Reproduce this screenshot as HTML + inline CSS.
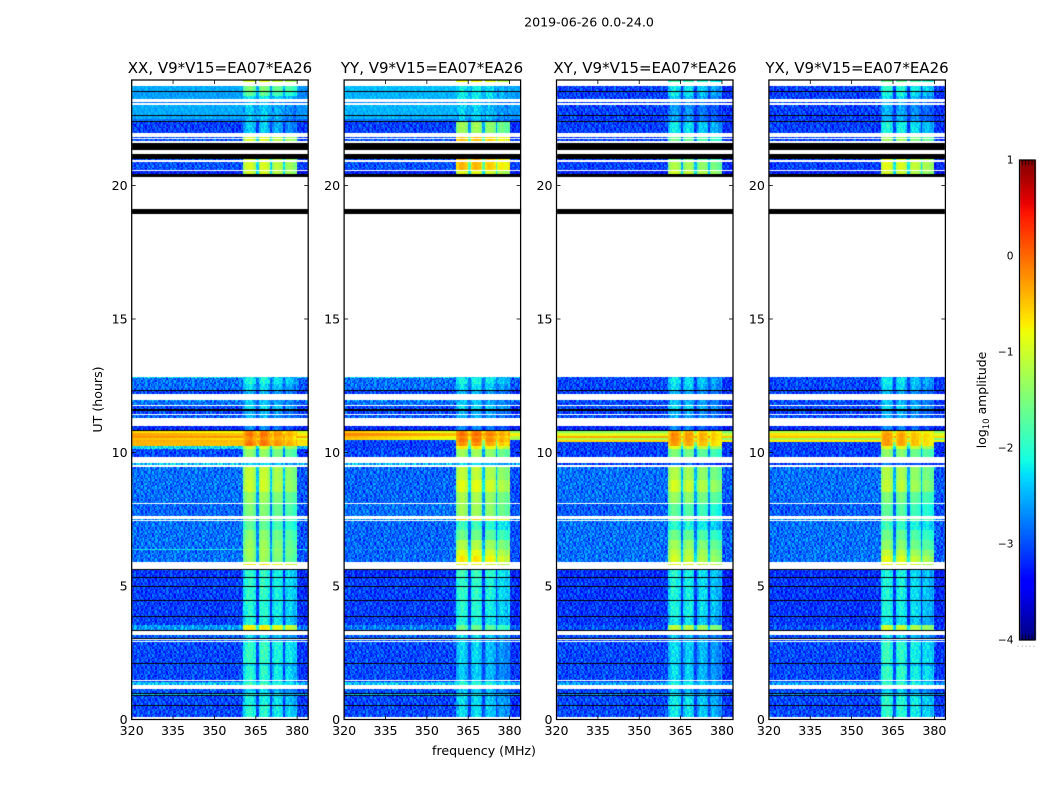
<!DOCTYPE html>
<html lang="en">
<head>
<meta charset="utf-8">
<title>2019-06-26 0.0-24.0</title>
<style>
html,body{margin:0;padding:0;background:#fff}
#figure{position:relative;width:1050px;height:800px;overflow:hidden;background:#fff;font-family:"DejaVu Sans","Liberation Sans",sans-serif}
#heat{position:absolute;left:0;top:0}
#overlay{position:absolute;left:0;top:0}
text{font-family:"DejaVu Sans","Liberation Sans",sans-serif;fill:#000}
</style>
</head>
<body>
<div id="figure">
<canvas id="heat" width="1050" height="800"></canvas>
<svg id="overlay" width="1050" height="800" xmlns="http://www.w3.org/2000/svg">
  <text x="589" y="26.5" font-size="12.6" text-anchor="middle">2019-06-26 0.0-24.0</text>
  <text x="220" y="73" font-size="15" text-anchor="middle">XX, V9*V15=EA07*EA26</text>
  <text x="432" y="73" font-size="15" text-anchor="middle">YY, V9*V15=EA07*EA26</text>
  <text x="645" y="73" font-size="15" text-anchor="middle">XY, V9*V15=EA07*EA26</text>
  <text x="857" y="73" font-size="15" text-anchor="middle">YX, V9*V15=EA07*EA26</text>
  <text x="0" y="0" font-size="12.6" text-anchor="middle" transform="translate(102,399.5) rotate(-90)">UT (hours)</text>
  <text x="484" y="755" font-size="12.6" text-anchor="middle">frequency (MHz)</text>
  <text x="0" y="0" font-size="12.4" text-anchor="middle" transform="translate(986,400) rotate(-90)">log<tspan font-size="8.6" dy="3">10</tspan><tspan dy="-3"> amplitude</tspan></text>
</svg>
</div>
<script>
// Log10 amplitudes (estimates).
const W = null; // no data: renders white
const K = -9;   // flagged/zero: renders black

const xTickValues = [320, 335, 350, 365, 380];
const yTickValues = [0, 5, 10, 15, 20];
const colorbarTickValues = [1, 0, -1, -2, -3, -4];

// Upper edge of each time band, in UT hours; each band ends at the next value.
const bandTop = [
23.951,23.876,23.727,23.528,23.502,23.352,23.228,23.127,23.090,23.004,
22.640,22.603,22.509,22.472,22.434,22.378,21.966,21.828,21.779,21.730,
21.678,21.581,21.348,21.180,21.004,20.955,20.891,20.581,20.543,20.431,
20.330,19.101,18.951,12.816,12.779,12.566,12.341,12.292,12.191,11.966,
11.918,11.790,11.753,11.618,11.566,11.442,11.404,11.303,10.993,10.843,
10.816,10.730,10.618,10.543,10.468,10.393,10.262,10.225,10.142,9.820,
9.596,9.543,9.468,8.970,8.521,8.120,8.082,7.633,7.509,7.483,
7.446,7.097,6.723,6.386,6.337,6.124,5.910,5.824,5.787,5.625,
5.588,5.337,5.300,4.989,4.951,4.719,4.682,4.464,4.427,3.865,
3.828,3.539,3.341,3.303,3.165,3.064,3.026,2.989,2.940,2.891,
2.105,2.067,2.015,1.993,1.491,1.442,1.393,1.281,1.142,1.079,
1.049,0.993,0.966,0.918,0.880,0.532,0.506,0.105
];

// Out-of-band level per time band, one array per polarisation.
const outXX = [
W,W,-2.55,K,-2.6,-2.6,W,-2.8,W,-2.55,
K,-2.55,W,-2.8,K,-3.1,W,-3.0,W,-3.0,
W,K,W,K,-3.0,W,-3.0,W,-3.3,K,
W,K,W,-2.3,-2.85,-2.85,K,-3.1,W,-2.75,
-2.85,W,-3.05,K,-3.05,W,-2.95,W,-3.25,K,
-0.7,-0.4,-0.25,-0.55,-0.4,-0.45,W,-2.3,-3.05,W,
-2.4,W,-2.85,-2.85,-2.85,W,-2.9,W,-2.7,W,
-2.85,-2.85,-2.85,-2.2,-2.85,-2.85,W,W,W,K,
-3.15,K,-3.1,K,-3.1,K,-3.1,K,-3.1,K,
-3.1,-2.65,K,W,-2.95,K,W,-2.95,W,-3.05,
K,-3.0,K,-3.05,W,-3.05,-2.4,W,-2.95,K,
-3.05,K,-2.45,K,-3.05,K,-3.05,W
];
const outYY = [
W,W,-2.45,K,-2.5,-2.5,W,-2.7,W,-2.5,
K,-2.5,W,-2.8,K,-3.1,W,-3.0,W,-3.0,
W,K,W,K,-3.0,W,-3.0,W,-3.3,K,
W,K,W,-2.3,-2.85,-2.85,K,-3.1,W,-2.75,
-2.85,W,-3.05,K,-3.05,W,-2.95,W,-3.25,K,
-0.7,-0.3,-0.6,-0.7,-3.0,-3.1,W,-3.1,-3.05,W,
-2.5,W,-2.9,-2.9,-2.9,W,-2.85,W,-2.7,W,
-2.9,-2.9,-2.9,-2.75,-2.9,-2.9,W,W,W,K,
-3.2,K,-3.1,K,-3.1,K,-3.1,K,-3.1,K,
-3.1,-2.8,K,W,-2.95,K,W,-2.95,W,-3.05,
K,-3.0,K,-3.05,W,-3.05,-2.4,W,-2.95,K,
-3.05,K,-2.45,K,-3.05,K,-3.05,W
];
const outXY = [
W,W,-3.1,K,-3.1,-3.1,W,-3.1,W,-3.1,
K,-3.1,W,-3.1,K,-3.1,W,-3.1,W,-3.1,
W,K,W,K,-3.1,W,-3.1,W,-3.3,K,
W,K,W,-3.0,-3.05,-3.05,K,-3.1,W,-3.05,
-3.05,W,-3.05,K,-3.1,W,-3.05,W,-3.25,K,
-1.4,-0.9,-0.35,-1.2,-0.6,-3.1,W,-3.1,-3.1,W,
-3.1,W,-2.85,-2.85,-2.85,W,-2.95,W,-2.7,W,
-2.85,-2.85,-2.85,-2.8,-2.85,-2.85,W,W,W,K,
-3.2,K,-3.15,K,-3.15,K,-3.15,K,-3.15,K,
-3.15,-3.0,K,W,-3.05,K,W,-3.05,W,-3.05,
K,-3.05,K,-3.05,W,-3.05,-2.6,W,-3.05,K,
-3.05,K,-2.7,K,-3.05,K,-3.05,W
];
const outYX = [
W,W,-3.1,K,-3.1,-3.1,W,-3.1,W,-3.1,
K,-3.1,W,-3.1,K,-3.1,W,-3.1,W,-3.1,
W,K,W,K,-3.1,W,-3.1,W,-3.3,K,
W,K,W,-3.0,-3.05,-3.05,K,-3.1,W,-3.05,
-3.05,W,-3.05,K,-3.1,W,-3.05,W,-3.25,K,
-1.2,-0.7,-0.5,-1.3,-0.7,-3.1,W,-3.1,-3.1,W,
-3.1,W,-2.85,-2.85,-2.85,W,-2.95,W,-2.7,W,
-2.85,-2.85,-2.85,-2.8,-2.85,-2.85,W,W,W,K,
-3.2,K,-3.15,K,-3.15,K,-3.15,K,-3.15,K,
-3.15,-3.0,K,W,-3.05,K,W,-3.05,W,-3.05,
K,-3.05,K,-3.05,W,-3.05,-2.6,W,-3.05,K,
-3.05,K,-2.7,K,-3.05,K,-3.05,W
];

// In-band (361-380 MHz) level per time band, one array per polarisation.
const inXX = [
-0.9,W,-1.5,K,-1.7,-2.2,W,-2.5,W,-2.4,
K,-2.4,W,-2.5,K,-2.4,W,-1.0,W,-1.0,
W,K,W,K,-1.0,W,-1.0,W,-1.0,K,
W,K,W,-2.2,-2.1,-2.3,K,-2.5,W,-2.5,
-2.4,W,-2.3,K,-2.5,W,-2.5,W,-2.7,K,
-0.2,-0.1,-0.2,-0.25,-0.15,-0.1,W,-1.0,-1.4,W,
-2.3,W,-1.1,-1.05,-1.35,W,-1.5,W,-1.4,W,
-1.7,-1.45,-1.35,-1.2,-1.3,-1.35,W,-0.7,W,K,
-2.0,K,-2.0,K,-2.0,K,-2.0,K,-2.05,K,
-2.1,-0.75,K,W,-2.3,K,W,-2.4,W,-1.95,
K,-2.3,K,-2.05,W,-2.2,-1.9,W,-2.4,K,
-2.3,K,-2.1,K,-2.15,K,-2.05,W
];
const inYY = [
-0.8,W,-2.2,K,-2.2,-2.2,W,-2.5,W,-2.35,
K,-2.35,W,-2.5,K,-1.3,W,-0.5,W,-0.5,
W,K,W,K,-0.4,W,-0.45,W,-0.9,K,
W,K,W,-2.2,-2.1,-2.3,K,-2.5,W,-2.5,
-2.4,W,-2.3,K,-2.5,W,-2.5,W,-2.7,K,
-0.15,-0.05,-0.2,-0.1,-0.1,-0.25,W,-0.7,-1.3,W,
-2.3,W,-1.1,-0.9,-1.25,W,-1.3,W,-0.6,W,
-1.9,-1.6,-1.2,-1.1,-0.9,-0.7,W,-0.8,W,K,
-1.9,K,-2.0,K,-2.0,K,-2.0,K,-2.05,K,
-2.1,-1.6,K,W,-2.3,K,W,-2.4,W,-2.35,
K,-2.4,K,-2.4,W,-2.3,-2.0,W,-2.4,K,
-2.4,K,-2.2,K,-2.3,K,-2.3,W
];
const inXY = [
-1.8,W,-2.2,K,-2.2,-2.4,W,-2.6,W,-2.6,
K,-2.6,W,-2.6,K,-2.2,W,-1.6,W,-1.6,
W,K,W,K,-1.5,W,-1.2,W,-1.0,K,
W,K,W,-2.4,-2.2,-2.3,K,-2.5,W,-2.5,
-2.4,W,-2.3,K,-2.5,W,-2.5,W,-2.7,K,
-0.35,-0.2,-0.25,-0.2,-0.25,-0.3,W,-0.9,-1.5,W,
-2.8,W,-1.2,-1.0,-1.35,W,-1.7,W,-1.4,W,
-2.0,-1.6,-1.3,-1.2,-1.1,-1.0,W,-0.8,W,K,
-2.05,K,-2.1,K,-2.1,K,-2.1,K,-2.1,K,
-2.2,-1.1,K,W,-2.4,K,W,-2.4,W,-2.3,
K,-2.4,K,-2.3,W,-2.3,-2.1,W,-2.4,K,
-2.4,K,-2.2,K,-2.2,K,-2.2,W
];
const inYX = [
-1.6,W,-2.0,K,-2.1,-2.3,W,-2.5,W,-2.5,
K,-2.5,W,-2.5,K,-2.1,W,-1.3,W,-1.3,
W,K,W,K,-0.9,W,-0.9,W,-1.0,K,
W,K,W,-2.4,-2.2,-2.3,K,-2.5,W,-2.5,
-2.4,W,-2.3,K,-2.5,W,-2.5,W,-2.7,K,
-0.45,-0.3,-0.3,-0.3,-0.3,-0.3,W,-0.9,-1.4,W,
-2.8,W,-1.2,-1.1,-1.5,W,-1.7,W,-1.4,W,
-1.9,-1.6,-1.4,-1.3,-1.1,-0.9,W,-0.8,W,K,
-2.1,K,-2.1,K,-2.1,K,-2.1,K,-2.1,K,
-2.2,-1.0,K,W,-2.3,K,W,-2.4,W,-1.95,
K,-2.3,K,-1.95,W,-2.2,-1.9,W,-2.4,K,
-2.3,K,-2.1,K,-2.0,K,-2.0,W
];

// Sub-band edges in MHz and each polarisation's level offset per sub-band.
const subbandLow = [360.6, 365.8, 370.9, 375.7];
const subbandHigh = [365.1, 370.0, 375.0, 379.9];
const subbandOffsetXX = [0, 0.02, -0.15, -0.3];
const subbandOffsetYY = [0, 0, -0.1, -0.3];
const subbandOffsetXY = [0, -0.08, -0.2, -0.35];
const subbandOffsetYX = [0, -0.05, -0.2, -0.35];

// Bandpass shape across the in-band channels, 0.5 MHz steps from 360.5 MHz.
const inbandRipple = [
-0.25,-0.1,0,0.05,0.05,0.05,0,-0.1,-0.2,0,0,
-0.2,-0.05,0.05,0.05,0.05,0,-0.05,-0.2,0,0,
-0.2,0,0.05,0.05,0,0,-0.05,-0.15,0,
-0.15,0,0.05,0.05,0,-0.05,-0.1,-0.2,0
];

// Left-to-right slope of the bright interference stripes near 10.5 h.
const firstStripeBand = 50;
const stripeTiltXX = [0.2, 0.2, 0, 0.2, 0.1, 0.1];
const stripeTiltYY = [0.5, 0.3, 0.4, 0.4, 0, 0];
const stripeTiltXY = [0, 0, 0, 0.1, 0, 0];
const stripeTiltYX = [0.1, 0.1, 0, 0.1, 0, 0];

// Hand-typed texture tile: an illustrative stand-in for the per-cell receiver
// noise, whose individual cells cannot be read from the picture.
const speckleTile = [
[ 0.2,-0.3, 0.1, 0.4,-0.1,-0.4, 0.3, 0.0,-0.2, 0.3,-0.3, 0.1, 0.4,-0.4, 0.0, 0.2,-0.1],
[-0.1, 0.3,-0.4, 0.0, 0.2, 0.3,-0.2, 0.4,-0.3,-0.1, 0.2,-0.4, 0.1, 0.3,-0.2,-0.3, 0.4],
[ 0.4,-0.2, 0.0,-0.3, 0.3,-0.1, 0.1,-0.4, 0.2, 0.4,-0.1, 0.3,-0.3, 0.0, 0.3,-0.2, 0.1],
[-0.3, 0.1, 0.3, 0.2,-0.4, 0.4,-0.3, 0.1,-0.1, 0.0, 0.3,-0.2, 0.2,-0.4, 0.4, 0.1,-0.3],
[ 0.1, 0.4,-0.2,-0.3, 0.0, 0.2,-0.4, 0.3, 0.4,-0.3,-0.2, 0.1, 0.0, 0.3,-0.1, 0.4,-0.2],
[-0.4, 0.0, 0.2, 0.4,-0.2,-0.3, 0.1, 0.3,-0.1, 0.2, 0.4,-0.4, 0.3,-0.2, 0.1,-0.1, 0.3],
[ 0.3,-0.1,-0.3, 0.1, 0.4, 0.0,-0.2,-0.4, 0.3,-0.2, 0.1, 0.2,-0.3, 0.4,-0.4, 0.2, 0.0],
[ 0.0, 0.2, 0.4,-0.4,-0.1, 0.3, 0.4,-0.1, 0.1,-0.4, 0.3,-0.1, 0.2,-0.3, 0.2,-0.4, 0.3],
[-0.2, 0.3,-0.1, 0.2,-0.3, 0.1,-0.3, 0.2,-0.4, 0.4, 0.0,-0.3, 0.4, 0.1,-0.2, 0.3,-0.4],
[ 0.4,-0.4, 0.1,-0.2, 0.3,-0.4, 0.2, 0.0, 0.4,-0.1,-0.3, 0.3,-0.1,-0.4, 0.4,-0.1, 0.2],
[-0.1, 0.2,-0.3, 0.4, 0.1,-0.2, 0.4,-0.3, 0.0, 0.3, 0.2,-0.4, 0.1, 0.2,-0.3, 0.4,-0.2],
[ 0.3,-0.3, 0.0,-0.1, 0.4, 0.2,-0.4, 0.1, 0.3,-0.4, 0.1, 0.4,-0.2,-0.1, 0.0,-0.3, 0.4],
[-0.3, 0.1, 0.4,-0.4, 0.2,-0.1, 0.3,-0.2, 0.1, 0.2,-0.4, 0.0, 0.3,-0.3, 0.4, 0.2,-0.1]
];

const panels = [
  {key: 'xx', out: outXX, band: inXX, sub: subbandOffsetXX, tilt: stripeTiltXX, smoothTop: true},
  {key: 'yy', out: outYY, band: inYY, sub: subbandOffsetYY, tilt: stripeTiltYY, smoothTop: true},
  {key: 'xy', out: outXY, band: inXY, sub: subbandOffsetXY, tilt: stripeTiltXY, smoothTop: false},
  {key: 'yx', out: outYX, band: inYX, sub: subbandOffsetYX, tilt: stripeTiltYX, smoothTop: false}
];

const AXES_LEFT = 131.7, AXES_STEP = 212.4, AXES_WIDTH = 176.5;
const AXES_TOP = 80, AXES_BOTTOM = 719.5;
const X_MIN = 320, X_MAX = 384, Y_MIN = 0, Y_MAX = 23.951;
const CHANNEL_MHZ = 0.5, ROW_HOURS = 0.05;
const V_MIN = -4, V_MAX = 1;
const CB_LEFT = 1019.5, CB_RIGHT = 1035, CB_TOP = 160, CB_BOTTOM = 640;
const SMOOTH_ABOVE_HOURS = 22.4;

function xScale(panelIndex, mhz) {
  return AXES_LEFT + AXES_STEP * panelIndex + (mhz - X_MIN) / (X_MAX - X_MIN) * AXES_WIDTH;
}
function yScale(hours) {
  return AXES_BOTTOM - (hours - Y_MIN) / (Y_MAX - Y_MIN) * (AXES_BOTTOM - AXES_TOP);
}
function yInvert(py) {
  return Y_MIN + (AXES_BOTTOM - py) / (AXES_BOTTOM - AXES_TOP) * (Y_MAX - Y_MIN);
}
function cbScale(v) {
  return CB_BOTTOM - (v - V_MIN) / (V_MAX - V_MIN) * (CB_BOTTOM - CB_TOP);
}

function ramp(t, stops) {
  for (let i = 1; i < stops.length; i++) {
    if (t <= stops[i][0]) {
      const a = stops[i - 1], b = stops[i];
      return a[1] + (b[1] - a[1]) * (t - a[0]) / (b[0] - a[0]);
    }
  }
  return stops[stops.length - 1][1];
}
const jetR = [[0, 0], [0.35, 0], [0.66, 1], [0.89, 1], [1, 0.5]];
const jetG = [[0, 0], [0.125, 0], [0.375, 1], [0.64, 1], [0.91, 0], [1, 0]];
const jetB = [[0, 0.5], [0.11, 1], [0.34, 1], [0.65, 0], [1, 0]];
const palette = [];
for (let i = 0; i < 256; i++) {
  const t = i / 255;
  palette.push('rgb(' + Math.round(255 * ramp(t, jetR)) + ',' + Math.round(255 * ramp(t, jetG)) + ',' + Math.round(255 * ramp(t, jetB)) + ')');
}
function colorOf(v) {
  const t = Math.max(0, Math.min(1, (v - V_MIN) / (V_MAX - V_MIN)));
  return palette[Math.round(t * 255)];
}

function subbandIndex(mhz) {
  for (let k = 0; k < subbandLow.length; k++) {
    if (mhz >= subbandLow[k] && mhz < subbandHigh[k]) return k;
  }
  return -1;
}

function cellValue(panel, b, mhz, speckle) {
  const outV = panel.out[b], inV = panel.band[b];
  if (inV === K || outV === K) return K;
  const k = subbandIndex(mhz);
  if (k >= 0) {
    if (inV === W) return W;
    const ripple = inbandRipple[Math.floor((mhz - 360.5) / CHANNEL_MHZ)] || 0;
    return inV + panel.sub[k] + ripple + speckle * (inV < -1.8 ? 0.6 : 0.2);
  }
  if (outV === W) return W;
  if (mhz >= subbandLow[0] && mhz < subbandHigh[3]) {
    // narrow gaps between sub-bands
    return Math.max(outV, inV - 1.3) + speckle * 0.5;
  }
  let v = outV + (mhz >= subbandHigh[3] ? -0.12 : 0);
  const t = b - firstStripeBand;
  if (t >= 0 && t < panel.tilt.length && outV > -1.6) {
    v += panel.tilt[t] * (0.5 - (mhz - X_MIN) / (subbandLow[0] - X_MIN));
  }
  let amount = 1;
  if (outV > -1.6) amount = 0.12;
  else if (panel.smoothTop && bandTop[b] > SMOOTH_ABOVE_HOURS) amount = 0.4;
  return v + speckle * amount;
}

const ctx = document.getElementById('heat').getContext('2d');
const channelCount = Math.round((X_MAX - X_MIN) / CHANNEL_MHZ);

panels.forEach(function (panel, p) {
  for (let b = 0; b < bandTop.length; b++) {
    const hi = bandTop[b];
    const lo = b + 1 < bandTop.length ? bandTop[b + 1] : Y_MIN;
    const y0 = Math.round(yScale(hi));
    let y1 = Math.round(yScale(lo));
    if (y1 <= y0) y1 = y0 + 1;
    for (let py = y0; py < y1; py++) {
      const row = Math.floor(yInvert(py + 0.5) / ROW_HOURS);
      const tileRow = speckleTile[row % speckleTile.length];
      const shift = row * 5 + p * 5;
      for (let c = 0; c < channelCount; c++) {
        const f0 = X_MIN + c * CHANNEL_MHZ;
        const speckle = tileRow[(c + shift) % tileRow.length];
        const v = cellValue(panel, b, f0 + CHANNEL_MHZ / 2, speckle);
        if (v === W) continue;
        ctx.fillStyle = v === K ? '#000' : colorOf(v);
        const x0 = Math.round(xScale(p, f0));
        const x1 = Math.round(xScale(p, f0 + CHANNEL_MHZ));
        ctx.fillRect(x0, py, x1 - x0, 1);
      }
    }
  }
});

// colour bar swatches
for (let py = CB_TOP; py < CB_BOTTOM; py++) {
  const v = V_MAX - (py + 0.5 - CB_TOP) / (CB_BOTTOM - CB_TOP) * (V_MAX - V_MIN);
  ctx.fillStyle = colorOf(v);
  ctx.fillRect(Math.round(CB_LEFT), py, Math.round(CB_RIGHT - CB_LEFT), 1);
}

const svg = document.getElementById('overlay');
const SVG_NS = 'http://www.w3.org/2000/svg';
function line(x1, y1, x2, y2, stroke, width) {
  const el = document.createElementNS(SVG_NS, 'line');
  el.setAttribute('x1', x1);
  el.setAttribute('y1', y1);
  el.setAttribute('x2', x2);
  el.setAttribute('y2', y2);
  el.setAttribute('stroke', stroke);
  el.setAttribute('stroke-width', width);
  svg.appendChild(el);
  return el;
}
function label(x, y, str, size, anchor) {
  const el = document.createElementNS(SVG_NS, 'text');
  el.setAttribute('x', x);
  el.setAttribute('y', y);
  el.setAttribute('font-size', size);
  el.setAttribute('text-anchor', anchor);
  el.textContent = str;
  svg.appendChild(el);
  return el;
}
function frame(x, y, w, h) {
  const el = document.createElementNS(SVG_NS, 'rect');
  el.setAttribute('x', x);
  el.setAttribute('y', y);
  el.setAttribute('width', w);
  el.setAttribute('height', h);
  el.setAttribute('fill', 'none');
  el.setAttribute('stroke', '#000');
  el.setAttribute('stroke-width', '1.25');
  svg.appendChild(el);
  return el;
}

panels.forEach(function (panel, p) {
  const left = xScale(p, X_MIN);
  const right = left + AXES_WIDTH;
  const box = frame(left, AXES_TOP, AXES_WIDTH, AXES_BOTTOM - AXES_TOP);
  
  
  xTickValues.forEach(function (t) {
    const x = xScale(p, t);
    const bottomTick = line(x, AXES_BOTTOM, x, AXES_BOTTOM - 4, '#000', 0.8);
    
    
    const topTick = line(x, AXES_TOP, x, AXES_TOP + 4, '#000', 0.8);
    
    
    const xLabel = label(x, 735, String(t), 12.6, 'middle');
    
    
  });
  yTickValues.forEach(function (t) {
    const y = yScale(t);
    const leftTick = line(left, y, left + 4, y, '#000', 0.8);
    
    
    const rightTick = line(right, y, right - 4, y, '#000', 0.8);
    
    
    const yLabel = label(left - 4, y + 4.5, String(t), 12.6, 'end');
    
    
  });
});

const cbFrame = frame(CB_LEFT, CB_TOP, CB_RIGHT - CB_LEFT, CB_BOTTOM - CB_TOP);


colorbarTickValues.forEach(function (t) {
  const text = t < 0 ? '\u2212' + Math.abs(t) : String(t);
  const cbLabel = label(1013.5, cbScale(t) + 3.5, text, 10.6, 'end');
  
  
});
[0.18, 0.39, 0.6, 0.81].forEach(function (frac) {
  const x = CB_LEFT + frac * (CB_RIGHT - CB_LEFT);
  const topMinor = line(x, CB_TOP, x, CB_TOP + 5, '#000', 0.7);
  
  
  const bottomMinor = line(x, CB_BOTTOM, x, CB_BOTTOM - 5, '#000', 0.7);
  
  
});
[1017.5, 1021.7, 1025.7, 1029.5, 1033.5].forEach(function (x) {
  const dot = line(x, 646.2, x + 1, 646.2, '#999', 1);
  
  
});
</script>
</body>
</html>
